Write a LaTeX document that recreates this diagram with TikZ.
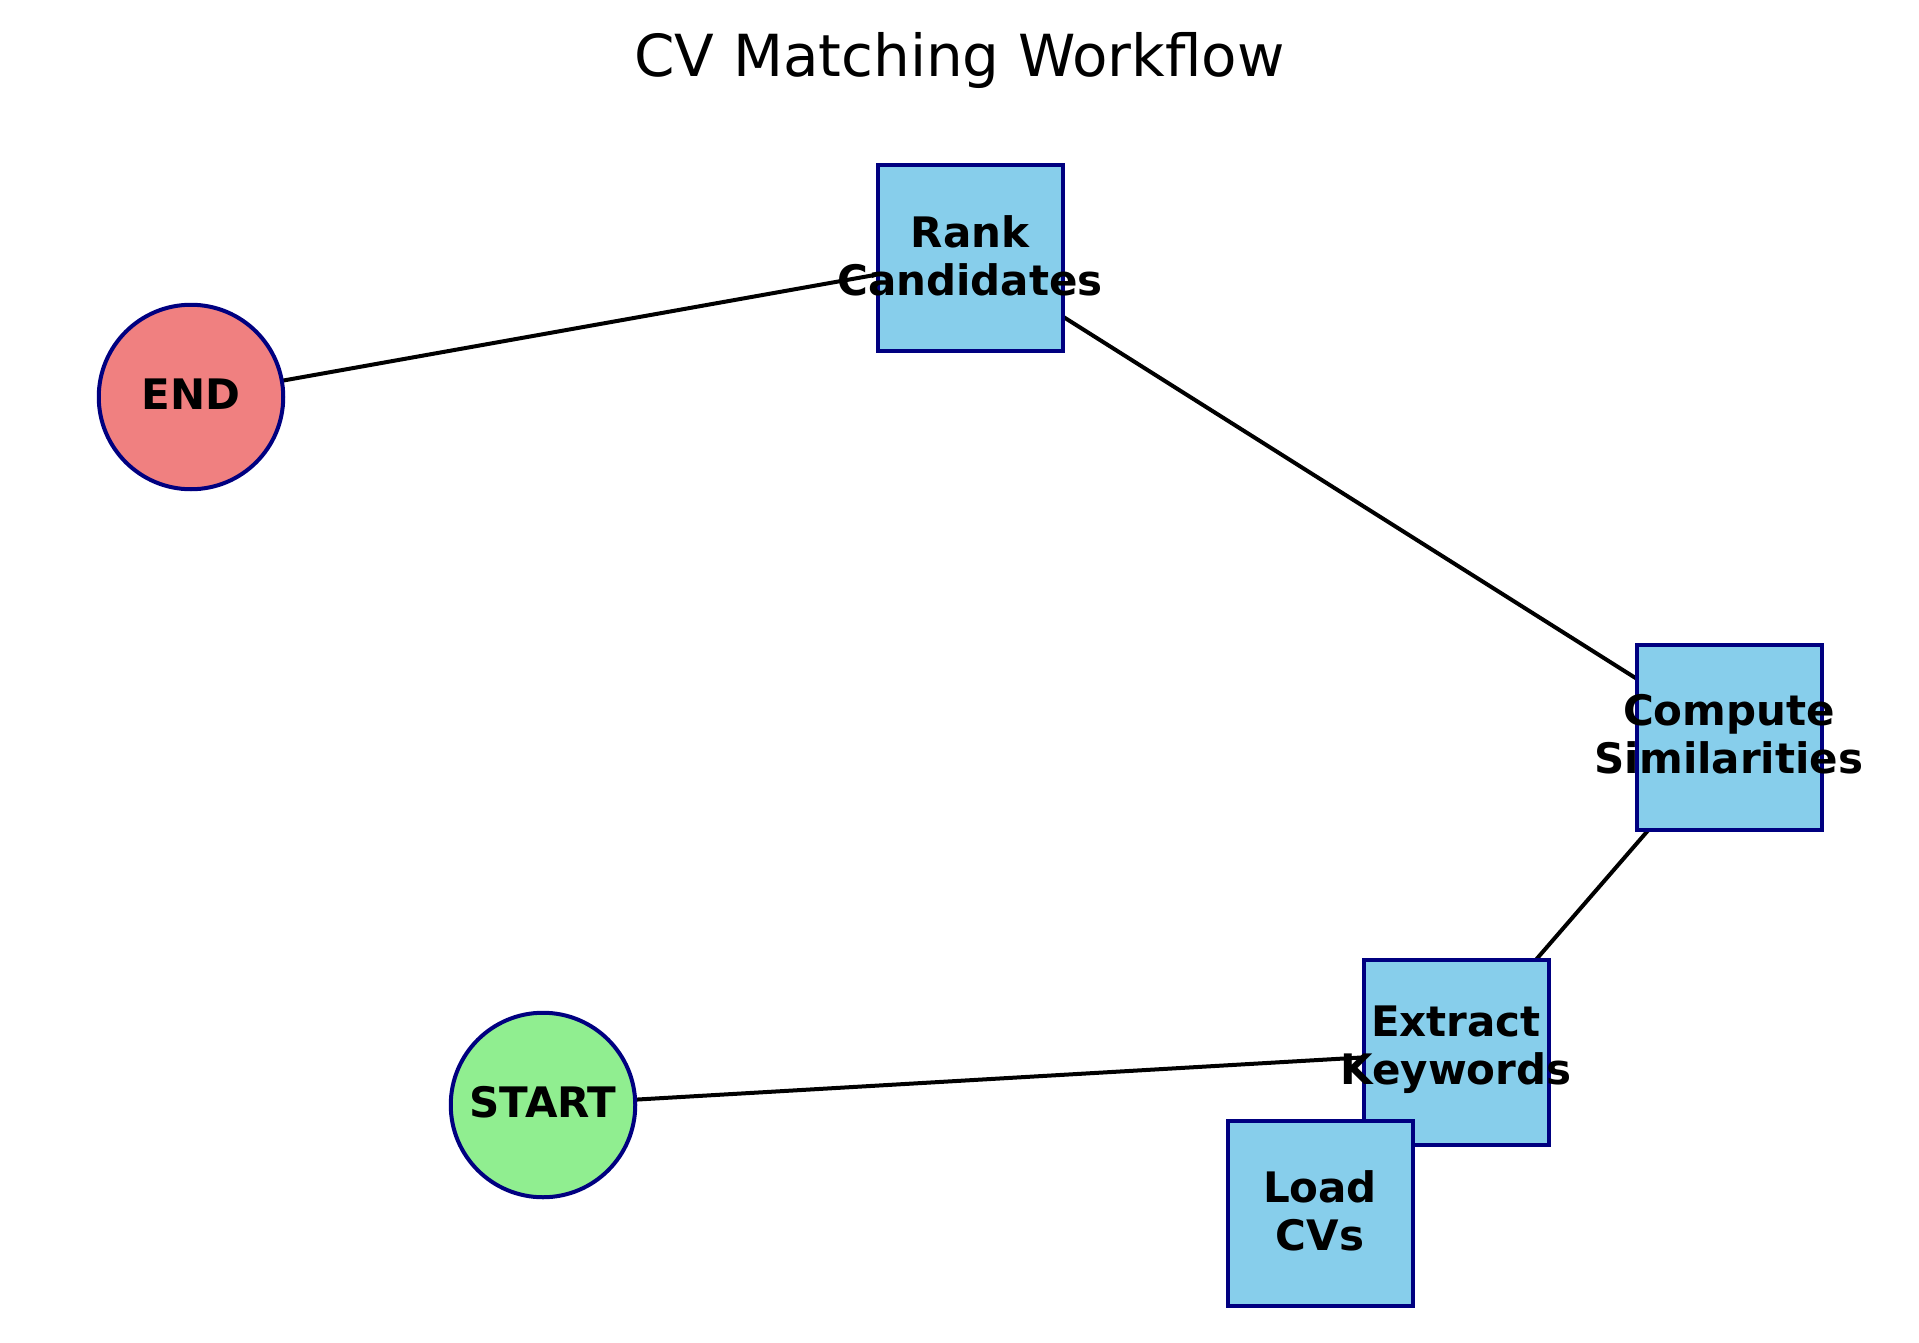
\documentclass[tikz,border=0pt]{standalone}
\usepackage{fontspec}
\setmainfont{DejaVu Sans}
\usetikzlibrary{backgrounds}
\definecolor{boxblue}{HTML}{87CEEB}
\definecolor{edgenavy}{HTML}{000080}
\definecolor{endred}{HTML}{F08080}
\definecolor{startgreen}{HTML}{90EE90}
\newcommand\nodelabelfont{\bfseries\fontsize{42}{48}\selectfont}
\begin{document}
\begin{tikzpicture}[x=1pt,y=-1pt,
  boxtext/.style={align=center, font=\nodelabelfont, inner sep=0pt, yshift=2.5pt},
  procbox/.style={rectangle, draw=edgenavy, fill=boxblue, line width=4pt,
    minimum size=185pt, inner sep=0pt},
  termnode/.style={circle, draw=edgenavy, line width=4pt,
    minimum size=184.5pt, inner sep=0pt},
  link/.style={line width=4pt, draw=black}]
\useasboundingbox (0,0) rectangle (1919,1343);
\node[anchor=base, font=\fontsize{58}{70}\selectfont] (title) at (959.5,77) {CV Matching Workflow};
\node[termnode, fill=endred, label={[boxtext]center:END}] (end) at (191,397) {};
\node[termnode, fill=startgreen, label={[boxtext]center:START}] (start) at (543,1105) {};
\node[procbox, label={[boxtext]center:Rank\\Candidates}] (rank) at (970,258) {};
\node[procbox, label={[boxtext]center:Compute\\Similarities}] (compute) at (1729,737) {};
\node[procbox, label={[boxtext]center:Extract\\Keywords}] (extract) at (1456,1052) {};
\node[procbox, label={[boxtext]center:Load\\CVs}] (load) at (1320,1213) {};
\begin{scope}[on background layer]
\draw[link] (start.center) -- (extract.center);
\draw[link] (extract.center) -- (compute.center);
\draw[link] (compute.center) -- (rank.center);
\draw[link] (rank.center) -- (end.center);
\end{scope}
\end{tikzpicture}
\end{document}
